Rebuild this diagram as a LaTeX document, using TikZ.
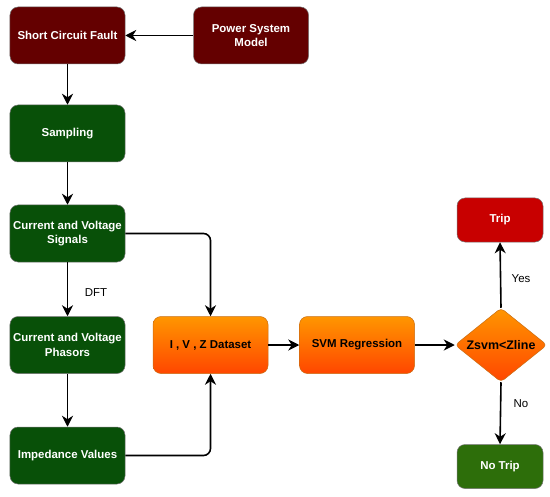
\documentclass[tikz,border=0pt]{standalone}
\usepackage{fontspec}
\setmainfont{Liberation Sans}
\usetikzlibrary{shapes.geometric,arrows.meta}
\definecolor{maroonbox}{RGB}{100,0,0}
\definecolor{dkgreen}{RGB}{8,80,8}
\definecolor{ltgreen}{RGB}{45,110,10}
\definecolor{tripred}{RGB}{200,0,0}
\definecolor{orTop}{RGB}{255,150,0}
\definecolor{orBot}{RGB}{255,70,0}
\definecolor{orEdge}{RGB}{200,110,20}
\begin{document}
\begin{tikzpicture}[x=1bp,y=-1bp,
  box/.style={rectangle, rounded corners=8bp, minimum width=115bp, minimum height=57bp,
    draw=black!55, line width=0.5bp, font=\fontsize{11.5}{14.5}\selectfont\bfseries,
    align=center, inner sep=2bp},
  redbox/.style={box, fill=maroonbox, text=white},
  grbox/.style={box, fill=dkgreen, text=white},
  orbox/.style={box, top color=orTop, bottom color=orBot, draw=orEdge, text=black},
  smallbox/.style={minimum width=86bp, minimum height=44bp},
  arr/.style={-{Stealth[length=11bp,width=11bp,inset=3.5bp]}, line width=1.6bp, rounded corners=7bp},
  lbl/.style={font=\fontsize{11.5}{13}\selectfont, text=black, inner sep=1bp}
]
\useasboundingbox (0,0) rectangle (550,497);

\node[redbox] (scf) at (67.5,35.5) {Short Circuit Fault};
\node[redbox] (psm) at (251,35.5) {Power System\\Model};
\node[grbox] (samp) at (67.5,133.5) {Sampling};
\node[grbox] (cvs) at (67.5,233.5) {Current and Voltage\\Signals};
\node[grbox] (cvp) at (67.5,345) {Current and Voltage\\Phasors};
\node[grbox] (imp) at (67.5,455.5) {Impedance Values};
\node[orbox] (ivz) at (210.5,345) {I , V , Z Dataset};
\node[orbox] (svm) at (357,345) {SVM Regression};
\node[diamond, minimum width=92bp, minimum height=74bp, inner sep=0pt, rounded corners=4bp,
      top color=orTop, bottom color=orBot, draw=orEdge, line width=0.5bp] (dia) at (501,345) {};
\node[font=\fontsize{12.5}{14.5}\selectfont\bfseries, inner sep=0pt] (diatext) at (dia.center) {Zsvm<Zline};
\node[box, smallbox, fill=tripred, text=white] (trip) at (500,220) {Trip};
\node[box, smallbox, fill=ltgreen, text=white] (notrip) at (500,466.5) {No Trip};

\draw[arr] (psm.west) -- (scf.east);
\draw[arr] (scf.south) -- (samp.north);
\draw[arr] (samp.south) -- (cvs.north);
\draw[arr] (cvs.south) -- (cvp.north);
\draw[arr] (cvp.south) -- (imp.north);
\draw[arr] (cvs.east) -| (ivz.north);
\draw[arr] (imp.east) -| (ivz.south);
\draw[arr] (ivz.east) -- (svm.west);
\draw[arr] (svm.east) -- (dia.west);
\draw[arr] (dia.north) -- (trip.south);
\draw[arr] (dia.south) -- (notrip.north);

\node[lbl] (dft) at (96,293) {DFT};
\node[lbl] (yes) at (521,279) {Yes};
\node[lbl] (no) at (521,404) {No};
\end{tikzpicture}
\end{document}
